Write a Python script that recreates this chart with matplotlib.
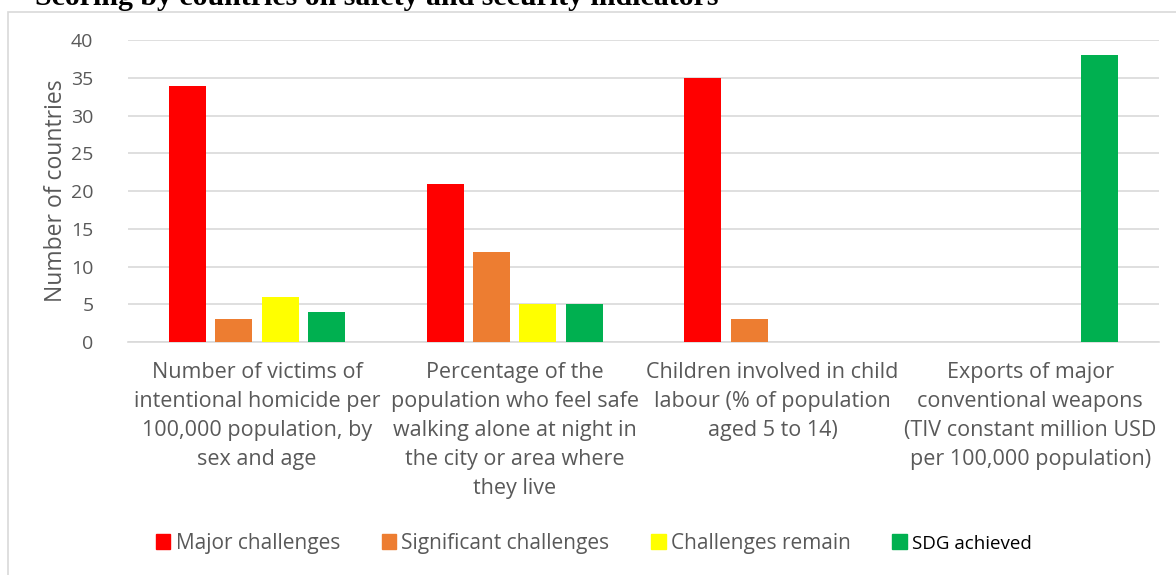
import numpy as np
import matplotlib
matplotlib.use('Agg')
import matplotlib.pyplot as plt
from matplotlib.patches import Rectangle, Patch

plt.rcParams['font.family'] = ['Open Sans', 'DejaVu Sans']

categories = ['Number of victims of\nintentional homicide per\n100,000 population, by\nsex and age',
              'Percentage of the\npopulation who feel safe\nwalking alone at night in\nthe city or area where\nthey live',
              'Children involved in child\nlabour (% of population\naged 5 to 14)',
              'Exports of major\nconventional weapons\n(TIV constant million USD\nper 100,000 population)']
series = ['Major challenges', 'Significant challenges', 'Challenges remain', 'SDG achieved']
major = [34, 21, 35, 0]
significant = [3, 12, 3, 0]
remain = [6, 5, 0, 0]
achieved = [4, 5, 0, 38]
colors = ['#ff0000', '#ed7d31', '#ffff00', '#00b050']

grey = '#595959'
fig = plt.figure(figsize=(11.76, 5.75), dpi=100)
ax = fig.add_axes([0.109, 0.405, 0.8765, 0.525])

x = np.arange(len(categories))
w = 0.143
step = 0.18
for k, vals in enumerate([major, significant, remain, achieved]):
    ax.bar(x + (k - 1.5) * step, vals, width=w, color=colors[k], zorder=3)

ax.set_xlim(-0.5, 3.5)
ax.set_ylim(0, 40)
ax.set_yticks(range(0, 41, 5))
ax.yaxis.grid(True, color='#d9d9d9', lw=1.2, zorder=0)
for s in ['top', 'right', 'left']:
    ax.spines[s].set_visible(False)
ax.spines['bottom'].set_color('#d9d9d9')
ax.spines['bottom'].set_linewidth(1.2)
ax.tick_params(axis='both', length=0, colors=grey)
ax.tick_params(axis='y', pad=25, labelsize=14)
ax.tick_params(axis='x', pad=14)
ax.set_xticks(x)
ax.set_xticklabels(categories, fontsize=15.5, color=grey, linespacing=1.5)
ax.set_ylabel('Number of countries', fontsize=16.5, color=grey, labelpad=2)

handles = [Patch(color=c) for c in colors]
leg = fig.legend(handles, series, loc='center', bbox_to_anchor=(0.505, 0.055), ncol=4,
                 frameon=False, fontsize=15, handlelength=0.7, handleheight=0.7,
                 handletextpad=0.25, columnspacing=2.0)
for t in leg.get_texts()[:3]:
    t.set_color(grey)
leg.get_texts()[3].set_fontsize(13.5)

# outer chart frame
fig.patches.append(Rectangle((8 / 1176, -0.05), 1.2, 1 - 12 / 575 + 0.05,
                             transform=fig.transFigure, fill=False,
                             edgecolor='#d9d9d9', lw=1.2))

fig.text(35 / 1176, 1 - 5 / 575, 'Scoring by countries on safety and security indicators',
         fontfamily='Liberation Serif', fontweight='bold', fontsize=21.5, va='baseline')

fig.savefig('out.png', dpi=100)
